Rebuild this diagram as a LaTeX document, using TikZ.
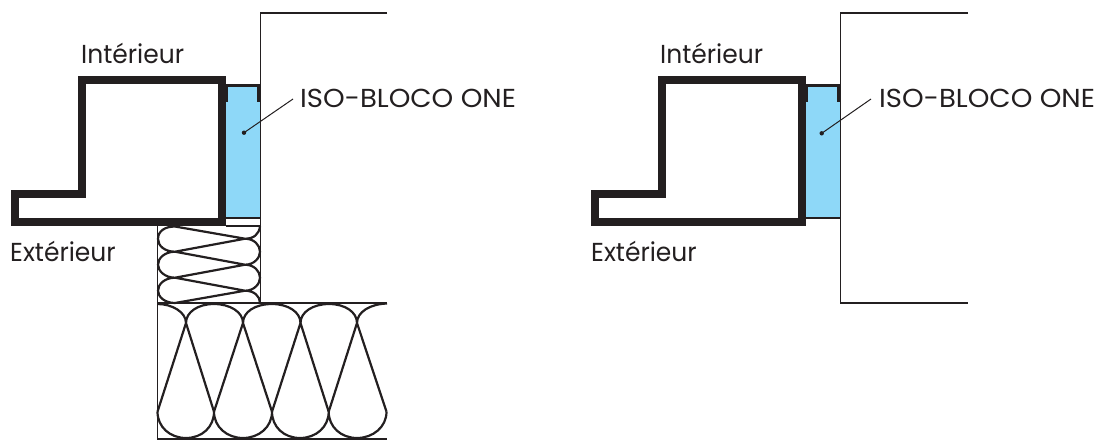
\documentclass[tikz,border=0pt]{standalone}
\usepackage{fontspec}
\setmainfont{Poppins}
\definecolor{ink}{HTML}{231F20}
\definecolor{bloco}{HTML}{8ED8F8}
\tikzset{
  frameline/.style={draw=ink,line width=8pt,miter limit=10},
  wall/.style={draw=ink,line width=1.8pt},
  wool/.style={draw=ink,line width=2.2pt,line join=round},
  leader/.style={draw=ink,line width=1pt},
  lbl/.style={inner sep=0pt,text=ink,font=\fontsize{26}{30}\selectfont,anchor=base west}
}
\newcommand{\glazing}{%
  \fill[bloco] (226,84) rectangle (260,218);
  \fill[ink] (226,84) rectangle (260,86.6);
  \draw[wall] (226,218) -- (260,218);
  \fill[ink] (226,84) rectangle (228.4,102);
  \fill[ink] (257.4,84) rectangle (260,102);
  \draw[frameline] (82,80) -- (222,80) -- (222,222) -- (15,222) -- (15,194) -- (82,194) -- cycle;
}
\newcommand{\narrowtext}[1]{\scalebox{0.96}[1]{#1}}
\newcommand{\isotext}[1]{\scalebox{1.06}[1]{#1}}
\begin{document}
\begin{tikzpicture}[x=1pt,y=-1pt]
\useasboundingbox (0,0) rectangle (1099,442);
% left detail
\glazing
\draw[wall] (387,13) -- (260.5,13) -- (260.5,303);
\draw[wall] (226,226) -- (260.5,226);
\draw[wall] (157.5,226) -- (157.5,303);
\draw[wall] (157.5,303) -- (387,303);
\draw[wall] (157.5,303) -- (157.5,439) -- (387,439);
% small insulation
\draw[wool] (260,226.5) .. controls (259,234) and (254,238.7) .. (245,238.7)
  -- (175,226.5) .. controls (165,226.5) and (158,231) .. (158,239)
  .. controls (158,246) and (165,251.7) .. (175,251.7) -- (245,238.7)
  .. controls (254,238.7) and (260,245) .. (260,251.7)
  .. controls (260,258) and (254,264.7) .. (245,264.7) -- (175,251.7)
  .. controls (165,251.7) and (158,258) .. (158,264.7)
  .. controls (158,271) and (165,277.7) .. (175,277.7) -- (245,264.7)
  .. controls (254,264.7) and (260,271) .. (260,277.7)
  .. controls (260,284) and (254,290.7) .. (245,290.7) -- (175,277.7)
  .. controls (165,277.7) and (158,284) .. (158,290.7)
  .. controls (158,297) and (165,303) .. (175,303) -- (245,290.7)
  .. controls (254,290.7) and (260,296) .. (260,303);
% large insulation: top bulbs
\draw[wool] (157.5,304) .. controls (172,304) and (186,312) .. (186,323)
  .. controls (186,312) and (198,304) .. (214,304)
  .. controls (230,304) and (243,312) .. (243,323)
  .. controls (243,312) and (255,304) .. (272,304)
  .. controls (288,304) and (300.5,312) .. (300.5,323)
  .. controls (300.5,312) and (313,304) .. (329,304)
  .. controls (345,304) and (357,312) .. (357,323)
  .. controls (357,312) and (370,304) .. (387,303.5);
% large insulation: crossing strands
\draw[wool] (157.5,411.7) -- (186,323) -- (214,411.7);
\draw[wool] (214,411.7) -- (243,323) -- (272,411.7);
\draw[wool] (272,411.7) -- (300.5,323) -- (328.7,411.7);
\draw[wool] (328.7,411.7) -- (357,323) -- (386.5,411.7);
% large insulation: bottom bulbs
\draw[wool] (157.5,411.7) .. controls (157.5,427) and (170,438) .. (186,438)
  .. controls (202,438) and (214,427) .. (214,411.7)
  .. controls (214,427) and (227,438) .. (243,438)
  .. controls (259,438) and (272,427) .. (272,411.7)
  .. controls (272,427) and (284,438) .. (300,438)
  .. controls (316,438) and (328.7,427) .. (328.7,411.7)
  .. controls (328.7,427) and (341,438) .. (357,438)
  .. controls (373,438) and (386.5,427) .. (386.5,411.7);
\coordinate (leaderA) at (293,99);
\coordinate (dotA) at (244,132.7);
\fill[ink] (dotA) circle (2.2pt);
\draw[leader] (leaderA) -- (dotA);
\node[lbl] (interieurA) at (81,63) {\narrowtext{Intérieur}};
\node[lbl] (exterieurA) at (10,261) {\narrowtext{Extérieur}};
\node[lbl] (isoA) at (300,107) {\isotext{ISO-BLOCO ONE}};
% right detail
\begin{scope}[xshift=580pt]
\glazing
\draw[wall] (388,13) -- (260.5,13) -- (260.5,303) -- (388,303);
\end{scope}
\coordinate (leaderB) at (871,99);
\coordinate (dotB) at (821.7,133.3);
\fill[ink] (dotB) circle (2.2pt);
\draw[leader] (leaderB) -- (dotB);
\node[lbl] (interieurB) at (660,63) {\narrowtext{Intérieur}};
\node[lbl] (exterieurB) at (591,261) {\narrowtext{Extérieur}};
\node[lbl] (isoB) at (879,107) {\isotext{ISO-BLOCO ONE}};
\end{tikzpicture}
\end{document}
